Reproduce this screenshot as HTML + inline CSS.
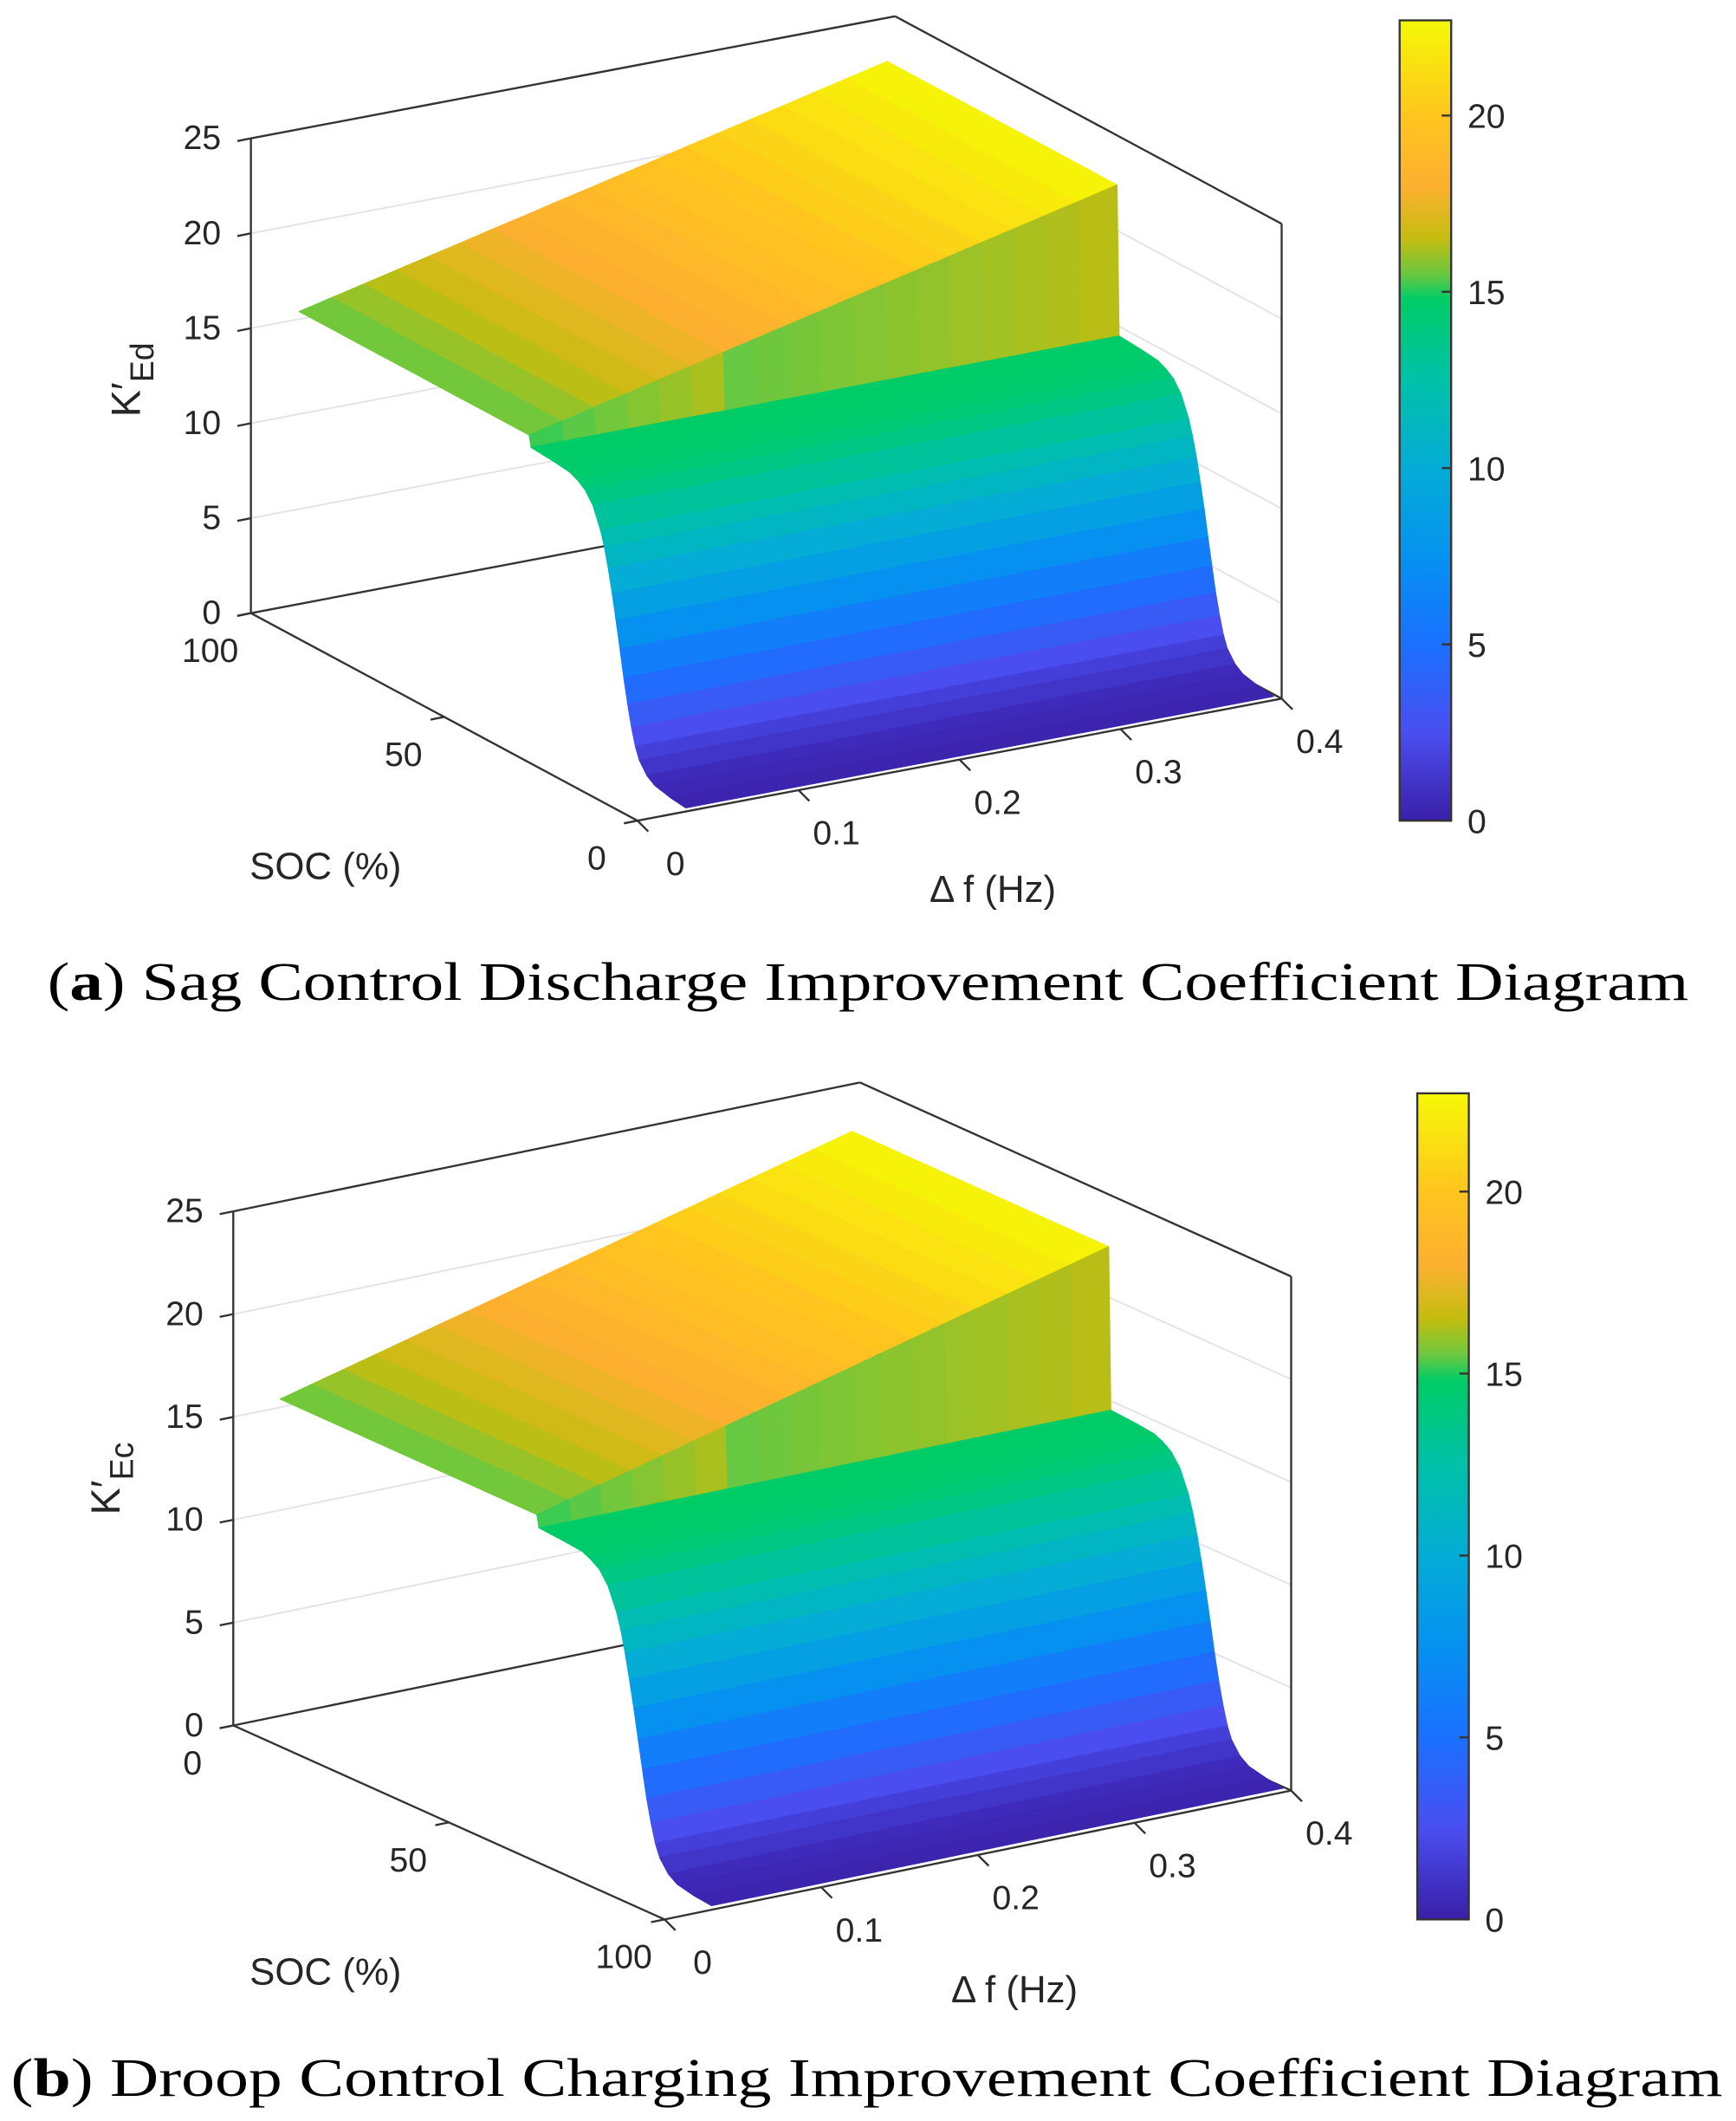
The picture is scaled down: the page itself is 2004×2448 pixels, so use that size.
<!DOCTYPE html>
<html><head><meta charset="utf-8"><style>
html,body{margin:0;padding:0;background:#fff;}
svg{display:block}
text{font-family:"Liberation Sans",sans-serif;fill:#262626}
.cap{font-family:"Liberation Serif",serif;fill:#000}
</style></head><body>
<svg id="fig" width="2004" height="2448" viewBox="0 0 1280 1563.6" xmlns="http://www.w3.org/2000/svg">
<g id="pa"></g>
<g id="pb"></g>
<text class="cap" x="35" y="737" font-size="40" textLength="1210" lengthAdjust="spacingAndGlyphs">(<tspan font-weight="bold">a</tspan>) Sag Control Discharge Improvement Coefficient Diagram</text>
<text class="cap" x="8" y="1545" font-size="40" textLength="1262" lengthAdjust="spacingAndGlyphs">(<tspan font-weight="bold">b</tspan>) Droop Control Charging Improvement Coefficient Diagram</text>
</svg>
<script>
// ---- data ----
const fValues = [0.03,0.05,0.07,0.09,0.11,0.13,0.15,0.17,0.19,0.21,0.23,0.25,0.27,0.29,0.31,0.33,0.35,0.37,0.395];
const highK = [15.4,15.8,16.2,16.6,17.0,17.4,17.8,18.2,18.6,19.0,19.4,19.8,20.2,20.6,21.0,21.4,21.8,22.2,22.7];
// panel a: low region SOC profile (soc <= 40), high region soc > 40
const socLowA = [0,4,8,10,12,13,14,15,16,17,18,19,20,21,22,24,26,28,30,34,40];
const kLowA = [0.2,0.3,0.5,0.8,1.4,2.0,2.9,4.0,5.3,6.7,8.1,9.4,10.6,11.6,12.4,13.5,14.1,14.4,14.6,14.7,14.8];
const socHighA = [40.5,50,60,70,80,90,100];
// panel b: mirrored (low region soc >= 60)
const socHighB = [0,10,20,30,40,50,59.5];
const socLowB = [60,66,70,72,74,76,78,79,80,81,82,83,84,85,86,87,88,90,92,96,100];
const kLowB = [14.8,14.7,14.6,14.4,14.1,13.5,12.4,11.6,10.6,9.4,8.1,6.7,5.3,4.0,2.9,2.0,1.4,0.8,0.5,0.3,0.2];
const zTicks = [0,5,10,15,20,25];
const socTicks = [0,50,100];
const fTicks = [0,0.1,0.2,0.3,0.4];
const cbTicks = [0,5,10,15,20];
const cMax = 22.7;

const cmapV = [0,2.5,5,7.5,10,12.5,14.8,15.5,16.5,18,20,22.7];
const cmapC = ['#3a1fa8','#4a4ef0','#1a70ff','#0592f0','#04acd6','#00c1a8','#00cc66','#6ac840','#c4bd10','#fdb030','#ffc51e','#f6f806'];
function hex(h){return [parseInt(h.substr(1,2),16),parseInt(h.substr(3,2),16),parseInt(h.substr(5,2),16)];}
function cmap(v){
  if(v<=cmapV[0]) return cmapC[0];
  for(let i=1;i<cmapV.length;i++){ if(v<=cmapV[i]){const t=(v-cmapV[i-1])/(cmapV[i]-cmapV[i-1]);const a=hex(cmapC[i-1]),b=hex(cmapC[i]);
    return 'rgb('+a.map((x,k)=>Math.round(x+(b[k]-x)*t)).join(',')+')';}}
  return cmapC[cmapC.length-1];
}
const NS='http://www.w3.org/2000/svg';
function mk(tag,attrs,parent){const e=document.createElementNS(NS,tag);for(const k in attrs)e.setAttribute(k,attrs[k]);parent.appendChild(e);return e;}

function panel(g,cfg){
  const P=(f,s,k)=>{const sn=cfg.rev?(100-s)/100:s/100;return [cfg.O[0]+f/0.1*cfg.ef[0]+sn*cfg.es[0], cfg.O[1]+f/0.1*cfg.ef[1]+sn*cfg.es[1]+k*cfg.ez];};
  const pt=(p)=>p[0].toFixed(1)+','+p[1].toFixed(1);
  const sBack=cfg.rev?0:100, sFront=cfg.rev?100:0;
  // grid lines on back walls
  for(const z of zTicks.slice(1,5)){
    const l=mk('polyline',{points:[P(0,sBack,z),P(0.4,sBack,z),P(0.4,sFront,z)].map(pt).join(' '),fill:'none',stroke:'#e3e3e3','stroke-width':1.2},g);
     
  }
  // box lines
  const box=[[[0,sBack,0],[0,sBack,25]],[[0,sBack,25],[0.4,sBack,25]],[[0.4,sBack,25],[0.4,sFront,25]],[[0.4,sFront,0],[0.4,sFront,25]],[[0,sBack,0],[0.4,sBack,0]],[[0.4,sBack,0],[0.4,sFront,0]],[[0,sBack,0],[0,sFront,0]],[[0,sFront,0],[0.4,sFront,0]]];
  for(const b of box){const l=mk('line',{x1:P(...b[0])[0],y1:P(...b[0])[1],x2:P(...b[1])[0],y2:P(...b[1])[1],stroke:'#333','stroke-width':1.5},g);
     }
  // surface
  const socs=cfg.socs, ks=cfg.ks;
  const cells=[];
  for(let i=0;i<fValues.length-1;i++)for(let j=0;j<socs.length-1;j++){
    const z=(ii,jj)=>ks[jj]===null?highK[ii]:ks[jj];
    const c=[[fValues[i],socs[j],z(i,j)],[fValues[i+1],socs[j],z(i+1,j)],[fValues[i+1],socs[j+1],z(i+1,j+1)],[fValues[i],socs[j+1],z(i,j+1)]];
    const zs=c.map(q=>q[2]);const mn=Math.min(...zs),mx=Math.max(...zs);
    const kc=(mx-mn>3)?(mn*0.8+mx*0.2):(zs.reduce((a,b)=>a+b)/4);
    const sm=(socs[j]+socs[j+1])/2, fm=(fValues[i]+fValues[i+1])/2;
    const depth=fm/0.4+(cfg.rev?(100-sm)/100:sm/100);
    cells.push({c,kc,depth});
  }
  cells.sort((a,b)=>b.depth-a.depth);
  const sg=mk('g',{},g);  
  for(const cl of cells){const col=cmap(cl.kc);
    const p=mk('polygon',{points:cl.c.map(q=>pt(P(...q))).join(' '),fill:col,stroke:col,'stroke-width':0.8,'stroke-linejoin':'round'},sg);
     }
  // z ticks
  for(const z of zTicks){const p=P(0,sBack,z);
    const l=mk('line',{x1:p[0],y1:p[1],x2:p[0]-10,y2:p[1]+2,stroke:'#333','stroke-width':1.5},g);
     
    const t=mk('text',{x:p[0]-22,y:p[1]+8,'font-size':25,'text-anchor':'end'},g);t.textContent=z;
     }
  for(const s of socTicks){const p=P(0,s,0);
    const l=mk('line',{x1:p[0],y1:p[1],x2:p[0]-10,y2:p[1]+2,stroke:'#333','stroke-width':1.5},g);
     
    const t=mk('text',{x:p[0]-30,y:p[1]+36,'font-size':25,'text-anchor':'middle'},g);t.textContent=s;
     }
  for(const f of fTicks){const p=P(f,sFront,0);
    const l=mk('line',{x1:p[0],y1:p[1],x2:p[0]+8,y2:p[1]+8,stroke:'#333','stroke-width':1.5},g);
     
    const t=mk('text',{x:p[0]+28,y:p[1]+40,'font-size':25,'text-anchor':'middle'},g);t.textContent=f;
     }
  const t1=mk('text',{x:cfg.socLbl[0],y:cfg.socLbl[1],'font-size':28,'text-anchor':'middle'},g);t1.textContent='SOC (%)';
   
  const t2=mk('text',{x:cfg.fLbl[0],y:cfg.fLbl[1],'font-size':28,'text-anchor':'middle'},g);t2.textContent='\u0394 f (Hz)';
   
  const t3=mk('text',{x:0,y:0,'font-size':30,transform:'translate('+cfg.zLbl[0]+','+cfg.zLbl[1]+') rotate(-90)','text-anchor':'middle'},g);
  t3.innerHTML='K\u2032<tspan font-size="24" dy="10">'+cfg.sub+'</tspan>';
   
  // colorbar
  const cb=cfg.cb; const cy=v=>cb.y1-(v/cMax)*(cb.y1-cb.y0);
  const defs=mk('defs',{},g); const lg=mk('linearGradient',{id:cfg.id+'grad',x1:0,y1:1,x2:0,y2:0},defs);
  for(const v of cmapV){mk('stop',{offset:(v/cMax).toFixed(4),'stop-color':cmap(v)},lg);}
  const r=mk('rect',{x:cb.x,y:cb.y0,width:cb.w,height:cb.y1-cb.y0,fill:'url(#'+cfg.id+'grad)',stroke:'#333','stroke-width':1.5},g);
   
  for(const v of cbTicks){const y=cy(v);
    const l=mk('line',{x1:cb.x+cb.w-7,y1:y,x2:cb.x+cb.w,y2:y,stroke:'#333','stroke-width':1.5},g);
     
    const t=mk('text',{x:cb.x+cb.w+12,y:y+9,'font-size':25},g);t.textContent=v;
     }
}
const ksA=kLowA.concat(socHighA.map(()=>null)), socsA=socLowA.concat(socHighA);
const ksB=socHighB.map(()=>null).concat(kLowB), socsB=socHighB.concat(socLowB);
panel(document.getElementById('pa'),{id:'a',O:[470,605],ef:[118.75,-22.5],es:[-285,-153],ez:-14,rev:false,socs:socsA,ks:ksA,
  socLbl:[240,648],fLbl:[732,665],zLbl:[103,280],sub:'Ed',cb:{x:1032,w:38,y0:15,y1:605}});
panel(document.getElementById('pb'),{id:'b',O:[490,1415],ef:[115.5,-23.75],es:[-318,-143],ez:-15.16,rev:true,socs:socsB,ks:ksB,
  socLbl:[240,1463],fLbl:[748,1476],zLbl:[88,1090],sub:'Ec',cb:{x:1045,w:38,y0:806,y1:1415}});
</script>
</body></html>
